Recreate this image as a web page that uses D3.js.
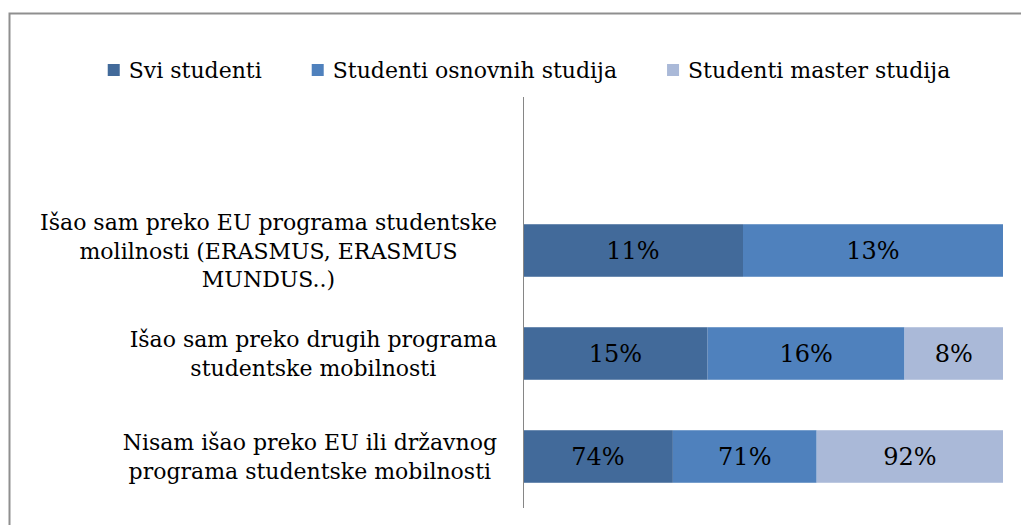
<!DOCTYPE html>
<html>
<head>
<meta charset="utf-8">
<script src="https://cdn.jsdelivr.net/npm/d3@7"></script>
<style>
  body { margin: 0; background: #fff; }
  svg { display: block; }
  text { font-family: "DejaVu Serif", "Liberation Serif", serif; fill: #000; }
</style>
</head>
<body>
<script>
// Chart data
var categories = [
  ["Išao sam preko EU programa studentske", "molilnosti (ERASMUS, ERASMUS", "MUNDUS..)"],
  ["Išao sam preko drugih programa", "studentske mobilnosti"],
  ["Nisam išao preko EU ili državnog", "programa studentske mobilnosti"]
];
var seriesNames = ["Svi studenti", "Studenti osnovnih studija", "Studenti master studija"];
var sviStudenti = [11, 15, 74];
var osnovneStudije = [13, 16, 71];
var masterStudije = [null, 8, 92];
var seriesColors = ["#426a9a", "#4f81bd", "#aab9d8"];

var width = 1021, height = 525;
var axisX = 523, barsRight = 1003;
var plotTop = 97, plotBottom = 508;

// Build rows for the stack
var rows = categories.map(function(c, i) {
  var r = { key: i };
  r[seriesNames[0]] = sviStudenti[i];
  r[seriesNames[1]] = osnovneStudije[i];
  r[seriesNames[2]] = masterStudije[i];
  return r;
});

var stack = d3.stack()
    .keys(seriesNames)
    .value(function(d, k) { return d[k] || 0; })
    .offset(d3.stackOffsetExpand);
var stacked = stack(rows);

var x = d3.scaleLinear().domain([0, 1]).range([axisX, barsRight]);
var y = d3.scaleBand()
    .domain(rows.map(function(d) { return d.key; }))
    .range([199, plotBottom])
    .paddingInner(0.49)
    .paddingOuter(0.245);

var svg = d3.select("body").append("svg")
    .attr("width", width)
    .attr("height", height);

// Chart frame (runs off the right and bottom edges)
svg.append("rect")
    .attr("x", 9.5).attr("y", 13.5)
    .attr("width", 1100).attr("height", 600)
    .attr("fill", "none")
    .attr("stroke", "#8f8f8f")
    .attr("stroke-width", 2);

// Bars
var layer = svg.selectAll(".layer")
  .data(stacked)
  .enter().append("g")
    .attr("class", "layer")
    .attr("fill", function(d, i) { return seriesColors[i]; });

layer.selectAll("rect")
  .data(function(d) { return d; })
  .enter().append("rect")
    .attr("x", function(d) { return x(d[0]); })
    .attr("y", function(d) { return y(d.data.key); })
    .attr("width", function(d) { return x(d[1]) - x(d[0]); })
    .attr("height", y.bandwidth());

// Value labels
stacked.forEach(function(s) {
  svg.append("g").selectAll("text")
    .data(s.filter(function(d) { return d.data[s.key]; }))
    .enter().append("text")
      .attr("x", function(d) { return (x(d[0]) + x(d[1])) / 2; })
      .attr("y", function(d) { return y(d.data.key) + y.bandwidth() / 2 + 8.5; })
      .attr("text-anchor", "middle")
      .style("font-size", "24px")
      .text(function(d) { return d.data[s.key] + "%"; });
});

// Category axis line
svg.append("line")
    .attr("x1", axisX + 0.5).attr("x2", axisX + 0.5)
    .attr("y1", plotTop).attr("y2", plotBottom)
    .attr("stroke", "#868686");

// Category labels: lines centred, block right-aligned near the axis
var lineGap = 28.5;
categories.forEach(function(lines, i) {
  var g = svg.append("g");
  var texts = lines.map(function(l) {
    return g.append("text").style("font-size", "22px").attr("text-anchor", "middle").text(l);
  });
  var maxW = d3.max(texts, function(t) { return t.node().getComputedTextLength(); });
  var cx = 497 - maxW / 2;
  var cy = y(i) + y.bandwidth() / 2;
  var first = cy - (lines.length - 1) * lineGap / 2 + 8;
  texts.forEach(function(t, j) {
    t.attr("x", cx).attr("y", first + j * lineGap);
  });
});

// Legend
var legend = svg.append("g");
var items = seriesNames.map(function(name, i) {
  var g = legend.append("g");
  g.append("rect")
    .attr("width", 12).attr("height", 12)
    .attr("y", 64)
    .attr("fill", seriesColors[i]);
  var t = g.append("text")
    .attr("x", 21).attr("y", 78)
    .style("font-size", "22px")
    .text(name);
  return { g: g, w: 21 + t.node().getComputedTextLength() };
});
var gap = 50;
var total = d3.sum(items, function(d) { return d.w; }) + gap * (items.length - 1);
var lx = 529 - total / 2;
items.forEach(function(it) {
  it.g.attr("transform", "translate(" + lx + ",0)");
  lx += it.w + gap;
});
</script>
</body>
</html>
